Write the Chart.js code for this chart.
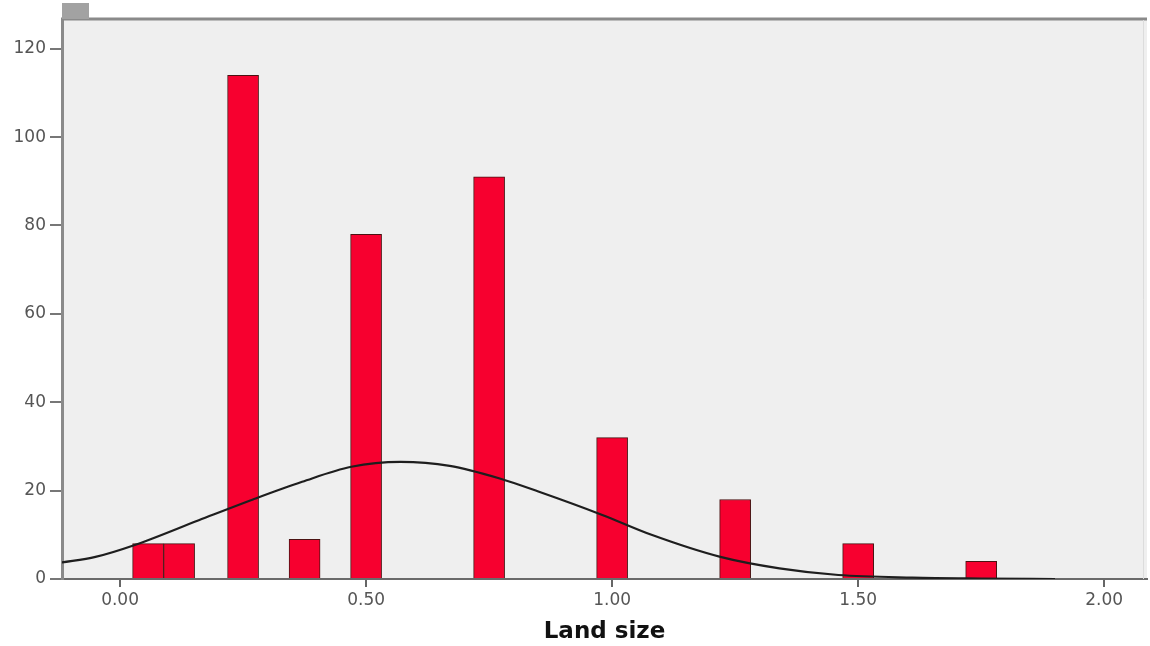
<!DOCTYPE html>
<html>
<head>
<meta charset="utf-8">
<script src="https://cdn.jsdelivr.net/npm/chart.js@4"></script>
<style>
  body { margin: 0; background: #fff; }
  #wrap { position: relative; width: 1150px; height: 646px; }
  #tab { position: absolute; left: 62px; top: 3px; width: 27px; height: 16px; background: #a2a2a2; }
</style>
</head>
<body>
<div id="wrap">
  <canvas id="hist"></canvas>
  <div id="tab"></div>
</div>
<script>
// histogram bins (land size) and counts
const binCenters = [0.057, 0.12, 0.25, 0.375, 0.5, 0.75, 1.0, 1.25, 1.5, 1.75];
const counts = [8, 8, 114, 9, 78, 91, 32, 18, 8, 4];

// normal curve
const curveX = [-0.12, -0.05, 0.03, 0.16, 0.27, 0.37, 0.47, 0.57, 0.67, 0.77, 0.85, 0.98, 1.08, 1.22, 1.34, 1.46, 1.61, 1.75, 1.9];
const curveY = [3.7, 5.0, 7.7, 13.3, 18.0, 22.0, 25.4, 26.5, 25.6, 22.8, 19.8, 14.5, 10.0, 5.0, 2.4, 0.9, 0.3, 0.1, 0];

const xTicks = [0, 0.5, 1, 1.5, 2];
const yTicks = [0, 20, 40, 60, 80, 100, 120];

const plotBg = {
  id: "plotBg",
  beforeDraw(chart) {
    const { ctx, chartArea: a } = chart;
    ctx.save();
    ctx.fillStyle = "#efefef";
    ctx.fillRect(a.left, a.top, a.right - a.left, a.bottom - a.top);
    ctx.restore();
  },
  afterDraw(chart) {
    const { ctx, chartArea: a } = chart;
    ctx.save();
    ctx.strokeStyle = "#8a8a8a";
    ctx.lineWidth = 3;
    ctx.beginPath();
    ctx.moveTo(a.left - 1, a.top - 1);
    ctx.lineTo(a.right, a.top - 1);
    ctx.stroke();
    ctx.strokeStyle = "#dcdcdc";
    ctx.lineWidth = 1;
    ctx.beginPath();
    ctx.moveTo(a.right - 3.5, a.top);
    ctx.lineTo(a.right - 3.5, a.bottom);
    ctx.stroke();
    ctx.restore();
  }
};

new Chart(document.getElementById("hist"), {
  type: "bar",
  data: {
    datasets: [
      {
        type: "line",
        data: curveX.map((x, i) => ({ x: x, y: curveY[i] })),
        borderColor: "#1e1e1e",
        borderWidth: 2.2,
        pointRadius: 0,
        cubicInterpolationMode: "monotone",
        fill: false,
        order: 0
      },
      {
        type: "bar",
        data: binCenters.map((x, i) => ({ x: x, y: counts[i] })),
        backgroundColor: "#f7002f",
        borderColor: "#4a1212",
        borderWidth: 1,
        barPercentage: 1,
        categoryPercentage: 1,
        order: 1
      }
    ]
  },
  options: {
    responsive: true,
    maintainAspectRatio: false,
    animation: false,
    layout: { padding: { top: 20, right: 3, left: 0, bottom: 0 } },
    plugins: { legend: { display: false }, tooltip: { enabled: false } },
    scales: {
      x: {
        type: "linear",
        min: -0.118,
        max: 2.087,
        offset: false,
        afterFit(s) { s.height = 67; },
        afterBuildTicks(s) { s.ticks = xTicks.map(v => ({ value: v })); },
        grid: { offset: false, drawOnChartArea: false, drawTicks: true, tickLength: 8, color: "#666", lineWidth: 2 },
        border: { color: "#6a6a6a", width: 2 },
        ticks: {
          padding: 3,
          color: "#555",
          font: { family: "DejaVu Sans", size: 17 },
          callback: v => v.toFixed(2)
        },
        title: {
          display: true,
          text: "Land size",
          color: "#111",
          font: { family: "DejaVu Sans", size: 23, weight: "bold" },
          padding: { top: 0, bottom: 0 }
        }
      },
      y: {
        min: 0,
        max: 126.5,
        afterFit(s) { s.width = 62; },
        afterBuildTicks(s) { s.ticks = yTicks.map(v => ({ value: v })); },
        grid: { drawOnChartArea: false, drawTicks: true, tickLength: 12, color: "#777", lineWidth: 2 },
        border: { color: "#8a8a8a", width: 3 },
        ticks: {
          padding: 4,
          color: "#555",
          font: { family: "DejaVu Sans", size: 17 }
        }
      }
    }
  },
  plugins: [plotBg]
});
</script>
</body>
</html>
